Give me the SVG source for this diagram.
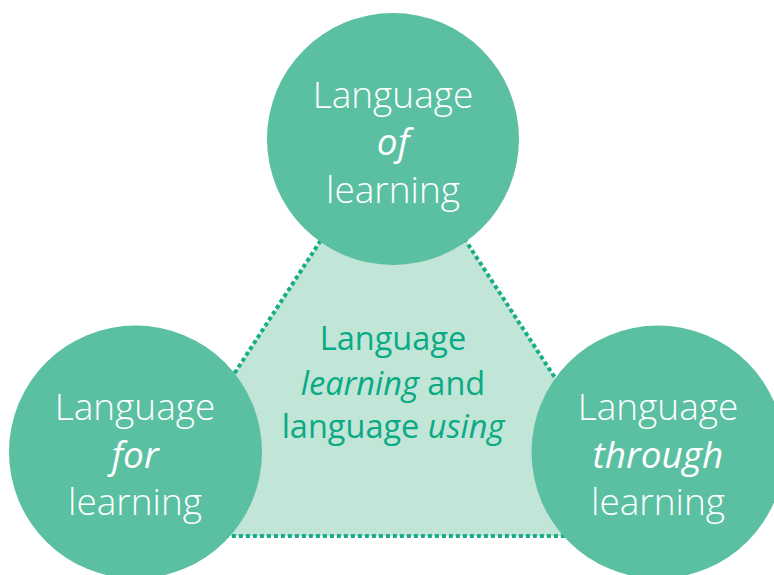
<svg xmlns="http://www.w3.org/2000/svg" width="774" height="575" viewBox="0 0 774 575">
<style>
.node{fill:#5bc0a1}
.wt{fill:#ffffff;font-family:"Open Sans","Noto Sans",sans-serif;font-size:37px;font-weight:300;text-anchor:middle}
.wi{font-style:italic;font-weight:400}
.ct{fill:#0aab84;font-family:"Open Sans","Noto Sans",sans-serif;font-size:32.5px;font-weight:400;text-anchor:middle}
.it{font-style:italic}
</style>
<rect width="774" height="575" fill="#ffffff"/>
<g id="connectors">
<polygon points="393,129 129,536 658,536" fill="#c1e5d7" stroke="#17ad88" stroke-width="4" stroke-dasharray="4,3"/>
</g>
<g id="center">
<text class="ct" x="393" y="350">Language</text>
<text class="ct" x="393" y="395"><tspan class="it">learning</tspan> and</text>
<text class="ct" x="393" y="438">language <tspan class="it">using</tspan></text>
</g>
<g id="top">
<circle class="node" cx="393" cy="139" r="126"/>
<text class="wt" x="393" y="108">Language</text>
<text class="wt wi" x="393" y="155">of</text>
<text class="wt" x="393" y="203">learning</text>
</g>
<g id="left">
<circle class="node" cx="135.5" cy="452" r="126.5"/>
<text class="wt" x="135" y="420">Language</text>
<text class="wt wi" x="135" y="468">for</text>
<text class="wt" x="135" y="515">learning</text>
</g>
<g id="right">
<circle class="node" cx="658" cy="452" r="126.5"/>
<text class="wt" x="658" y="420">Language</text>
<text class="wt wi" x="658" y="468">through</text>
<text class="wt" x="658" y="515">learning</text>
</g>
</svg>
